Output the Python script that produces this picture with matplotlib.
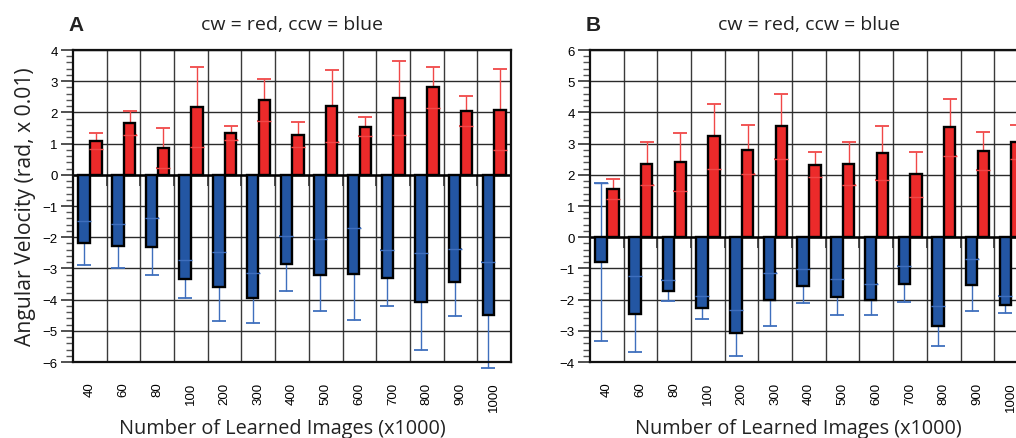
import numpy as np
import matplotlib
matplotlib.use("Agg")
import matplotlib.pyplot as plt
from matplotlib.ticker import MultipleLocator

cats = ["40", "60", "80", "100", "200", "300", "400", "500", "600", "700", "800", "900", "1000"]

# panel A
a_cw = [1.09, 1.65, 0.85, 2.16, 1.34, 2.40, 1.29, 2.21, 1.54, 2.47, 2.80, 2.04, 2.09]
a_cw_err = [0.26, 0.38, 0.64, 1.28, 0.24, 0.67, 0.41, 1.15, 0.30, 1.18, 0.66, 0.47, 1.31]
a_ccw = [-2.19, -2.28, -2.31, -3.34, -3.58, -3.96, -2.85, -3.22, -3.19, -3.31, -4.07, -3.45, -4.49]
a_ccw_err = [0.70, 0.71, 0.91, 0.62, 1.10, 0.80, 0.88, 1.16, 1.47, 0.91, 1.56, 1.07, 1.70]

# panel B
b_cw = [1.55, 2.36, 2.42, 3.23, 2.81, 3.56, 2.32, 2.36, 2.70, 2.01, 3.52, 2.76, 3.06]
b_cw_err = [0.32, 0.68, 0.93, 1.05, 0.80, 1.04, 0.40, 0.68, 0.88, 0.72, 0.91, 0.60, 0.54]
b_ccw = [-0.79, -2.47, -1.71, -2.26, -3.07, -2.00, -1.57, -1.92, -2.00, -1.49, -2.84, -1.53, -2.16]
b_ccw_err = [2.53, 1.22, 0.35, 0.36, 0.73, 0.85, 0.55, 0.57, 0.50, 0.58, 0.65, 0.84, 0.28]

RED = "#ec2a2a"
BLUE = "#2356a3"
RED_E = "#f04848"
BLUE_E = "#3f6fbd"
LABEL_FONT = ["Open Sans", "DejaVu Sans"]
TICK_FONT = ["Liberation Sans", "DejaVu Sans"]

fig = plt.figure(figsize=(10.16, 4.39), dpi=100)


def panel(rect, cw, cw_err, ccw, ccw_err, ylim, letter):
    ax = fig.add_axes(rect)
    x = np.arange(len(cats))
    xb, xr = x - 0.17, x + 0.18
    cw, cw_err, ccw, ccw_err = map(np.array, (cw, cw_err, ccw, ccw_err))
    cap = 4.7

    ax.errorbar(xb, ccw, yerr=ccw_err, fmt="none", ecolor=BLUE_E, elinewidth=1.0,
                capsize=cap, capthick=1.3, zorder=1, clip_on=False)
    ax.errorbar(xr, cw, yerr=cw_err, fmt="none", ecolor=RED_E, elinewidth=1.0,
                capsize=cap, capthick=1.3, zorder=1, clip_on=False)
    ax.bar(xb, ccw, width=0.34, color=BLUE, edgecolor="black", linewidth=1.7, zorder=2)
    ax.bar(xr, cw, width=0.34, color=RED, edgecolor="black", linewidth=1.7, zorder=2)
    # inner caps visible on top of the bars
    ax.plot(xb, ccw + ccw_err, ls="none", marker="_", ms=2 * cap, mew=1.0, color=BLUE_E, zorder=3)
    ax.plot(xr, cw - cw_err, ls="none", marker="_", ms=2 * cap, mew=1.0, color=RED_E, zorder=3)

    bounds = np.arange(len(cats) - 1) + 0.5
    ax.axhline(0, color="black", lw=1.8, zorder=1.5)
    ax.vlines(bounds, 0, -(ylim[1] - ylim[0]) * 0.035, color="#333333", lw=1.2, zorder=1.4)

    ax.set_xlim(-0.5, len(cats) - 0.5)
    ax.set_ylim(*ylim)
    ax.set_xticks(x)
    ax.set_xticklabels(cats, rotation=90, fontsize=9.5, family=TICK_FONT)
    ax.set_xticks(bounds, minor=True)
    ax.tick_params(axis="x", which="both", length=0, pad=14)
    ax.yaxis.set_major_locator(MultipleLocator(1))
    ax.yaxis.set_minor_locator(MultipleLocator(0.2))
    ax.tick_params(axis="y", which="major", length=9, width=1.2, color="#333333", labelsize=9.5, pad=2)
    ax.tick_params(axis="y", which="minor", length=5, width=1.0, color="#555555")
    for lab in ax.get_yticklabels():
        lab.set_family(TICK_FONT)
    ax.set_axisbelow(True)
    ax.grid(axis="y", which="major", color="#2a2a2a", lw=1.0)
    ax.grid(axis="x", which="minor", color="#3a3a3a", lw=1.0)
    for s in ax.spines.values():
        s.set_linewidth(1.6)
        s.set_color("#111111")

    ax.set_title("cw = red, ccw = blue", fontsize=14, family=LABEL_FONT, color="#222222", pad=15)
    ax.set_xlabel("Number of Learned Images (x1000)", fontsize=14.3, family=LABEL_FONT, color="#222222")
    ax.xaxis.set_label_coords(0.477, -0.18)
    ax.text(-0.01, 1.05, letter, transform=ax.transAxes, fontsize=15, fontweight="bold",
            family=TICK_FONT, color="#222222", va="bottom", ha="left")
    return ax


axA = panel([0.0719, 0.1731, 0.431, 0.7107], a_cw, a_cw_err, a_ccw, a_ccw_err, (-6, 4), "A")
axA.set_ylabel("Angular Velocity (rad, x 0.01)", fontsize=15.2, family=LABEL_FONT, color="#222222", labelpad=5)
axB = panel([0.5807, 0.1731, 0.431, 0.7107], b_cw, b_cw_err, b_ccw, b_ccw_err, (-4, 6), "B")

fig.savefig("out.png", dpi=100)
